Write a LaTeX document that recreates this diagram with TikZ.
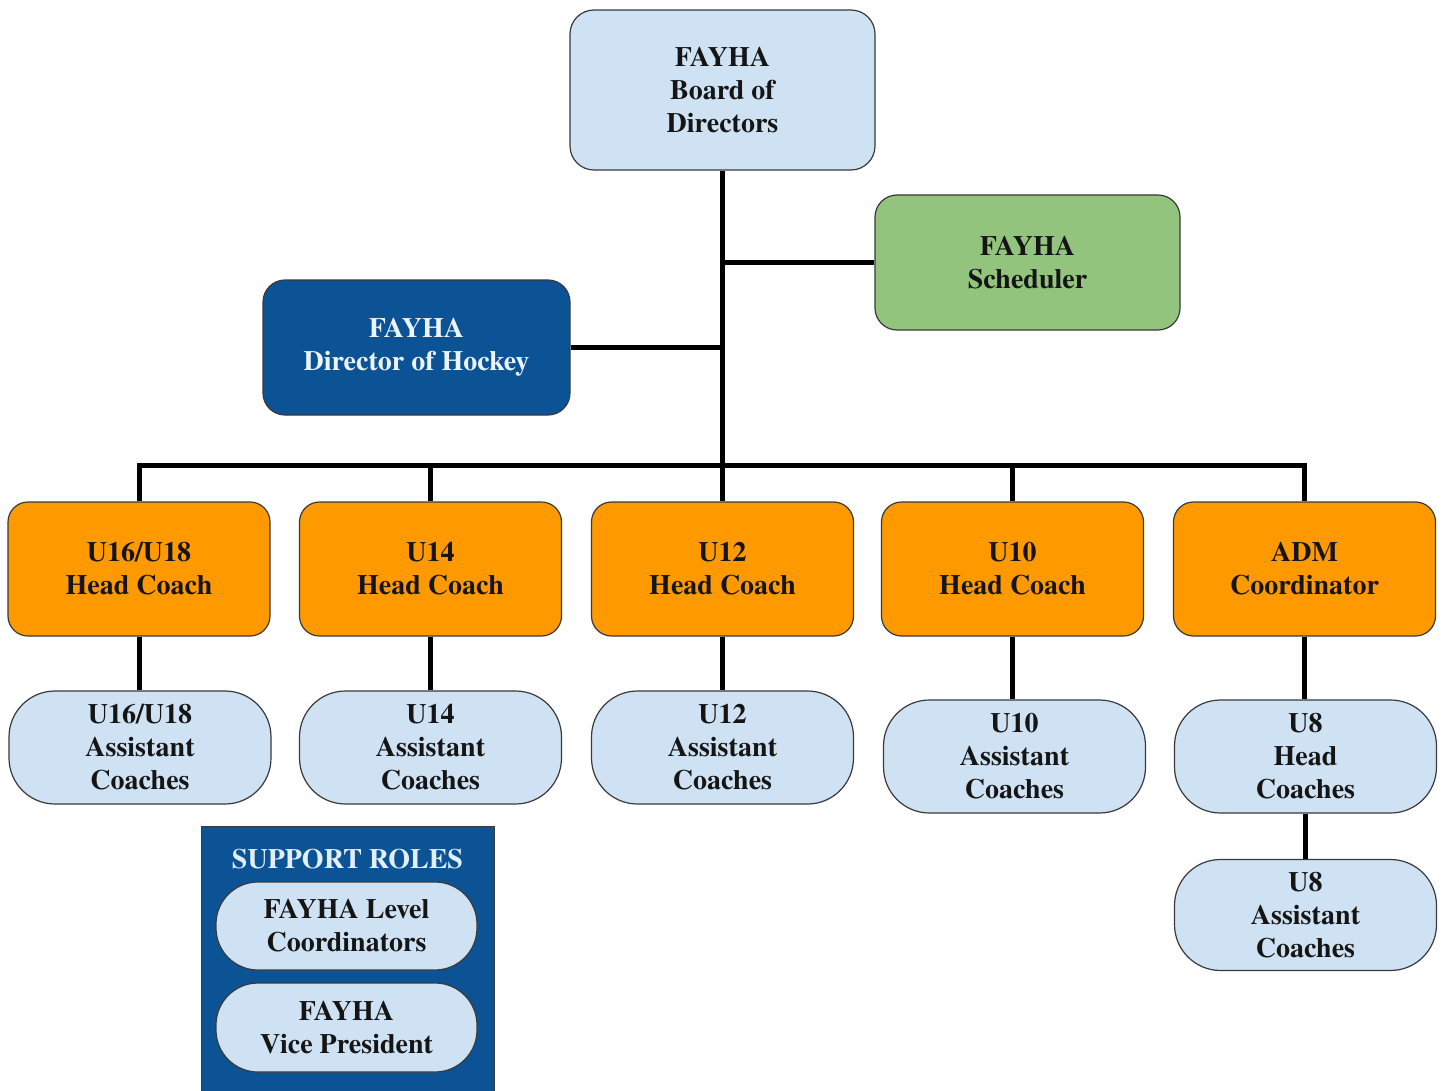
\documentclass[tikz,border=0pt]{standalone}
\usepackage{fontspec}
\setmainfont{texgyretermes}[Extension=.otf,UprightFont=*-regular,BoldFont=*-bold,ItalicFont=*-italic,BoldItalicFont=*-bolditalic]
\definecolor{lblue}{HTML}{CFE2F3}
\definecolor{dblue}{HTML}{0B5394}
\definecolor{lgreen}{HTML}{93C47D}
\definecolor{orng}{HTML}{FF9900}
\definecolor{edge}{HTML}{3A3A3A}
\definecolor{txt}{HTML}{151515}
\begin{document}
\begin{tikzpicture}[x=1pt,y=-1pt,
  lbl/.style={align=center,font=\fontsize{28}{33}\selectfont\bfseries,text=txt,inner sep=0pt},
  rbox/.style={lbl,draw=edge,line width=1.2pt,rounded corners=24pt},
  obox/.style={rbox,fill=orng,minimum width=262pt,minimum height=134pt,rounded corners=20pt},
  abox/.style={lbl,draw=edge,line width=1.2pt,fill=lblue,rounded corners=46pt,minimum width=262pt,minimum height=113pt},
  conn/.style={line width=5pt,black}]
\useasboundingbox (0,0) rectangle (1442,1091);
\fill[white] (0,0) rectangle (1442,1091);
% top tier
\node[rbox,fill=lblue,minimum width=305pt,minimum height=160pt] (board) at (722.5,90) {FAYHA\\Board of\\Directors};
\node[rbox,fill=lgreen,minimum width=305pt,minimum height=135pt,rounded corners=22pt] (sched) at (1027.5,262.5) {FAYHA\\Scheduler};
\node[rbox,fill=dblue,text=lblue!40!white,minimum width=307pt,minimum height=135pt,rounded corners=22pt] (dir) at (416.5,347.5) {FAYHA\\Director of Hockey};
% orange tier
\node[obox] (o1) at (139,569) {U16/U18\\Head Coach};
\node[obox] (o2) at (430.5,569) {U14\\Head Coach};
\node[obox] (o3) at (722.5,569) {U12\\Head Coach};
\node[obox] (o4) at (1012.5,569) {U10\\Head Coach};
\node[obox] (o5) at (1304.5,569) {ADM\\Coordinator};
% assistants
\node[abox] (a1) at (140,747.5) {U16/U18\\Assistant\\Coaches};
\node[abox] (a2) at (430.5,747.5) {U14\\Assistant\\Coaches};
\node[abox] (a3) at (722.5,747.5) {U12\\Assistant\\Coaches};
\node[abox] (a4) at (1014.5,756.5) {U10\\Assistant\\Coaches};
\node[abox] (a5) at (1305.5,756.5) {U8\\Head\\Coaches};
\node[abox,minimum height=111pt] (a6) at (1305.5,915) {U8\\Assistant\\Coaches};
% support roles
\node[fill=dblue,draw=edge,line width=0.8pt,minimum width=293pt,minimum height=270pt,inner sep=0pt] (sup) at (347.5,961) {};
\node[lbl,text=lblue!60!white] (supt) at (347.5,859) {SUPPORT ROLES};
\node[abox,minimum width=261pt,minimum height=88pt,rounded corners=42pt] (s1) at (346.5,926) {FAYHA Level\\Coordinators};
\node[abox,minimum width=261pt,minimum height=89pt,rounded corners=42pt] (s2) at (346.5,1027.5) {FAYHA\\Vice President};
% connectors
\coordinate (t1) at (o1.north |- 0,465);
\coordinate (t2) at (o2.north |- 0,465);
\coordinate (t3) at (o3.north |- 0,465);
\coordinate (t4) at (o4.north |- 0,465);
\coordinate (t5) at (o5.north |- 0,465);
\draw[conn] (board.south) -- (t3);
\draw[conn] (sched.west) -- (sched.west -| board.south);
\draw[conn] (dir.east) -- (dir.east -| board.south);
\draw[conn,line cap=rect] (t1) -- (t5);
\draw[conn] (t1) -- (o1.north);
\draw[conn] (t2) -- (o2.north);
\draw[conn] (t3) -- (o3.north);
\draw[conn] (t4) -- (o4.north);
\draw[conn] (t5) -- (o5.north);
\draw[conn] (o1.south) -- (a1.north -| o1.south);
\draw[conn] (o2.south) -- (a2.north);
\draw[conn] (o3.south) -- (a3.north);
\draw[conn] (o4.south) -- (a4.north -| o4.south);
\draw[conn] (o5.south) -- (a5.north -| o5.south);
\draw[conn] (a5.south) -- (a6.north);
\end{tikzpicture}
\end{document}
